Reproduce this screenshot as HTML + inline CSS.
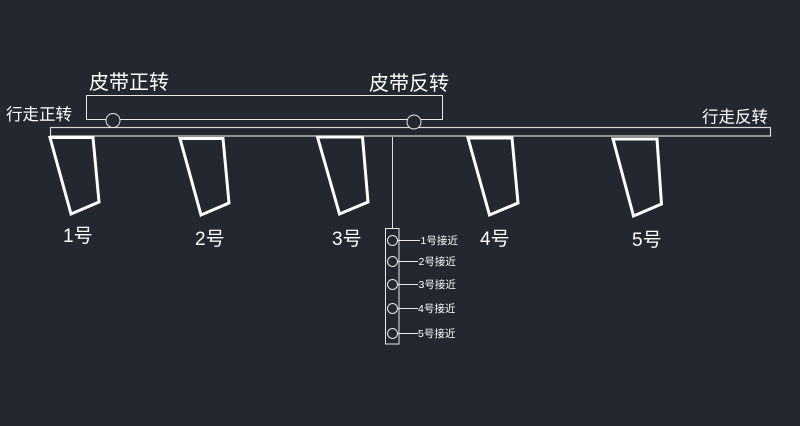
<!DOCTYPE html>
<html><head><meta charset="utf-8"><style>
html,body{margin:0;padding:0;background:#222730;}
svg{display:block;}
text{font-family:"Liberation Sans","Noto Sans CJK SC",sans-serif;fill:#ffffff;}
</style></head><body>
<svg width="800" height="426" viewBox="0 0 800 426" xmlns="http://www.w3.org/2000/svg">
<rect width="800" height="426" fill="#222730"/>
<!-- belt rect -->
<rect x="86.5" y="95.5" width="356" height="24" fill="none" stroke="#e8e8e8" stroke-width="1"/>
<!-- rail -->
<rect x="50.5" y="127.5" width="720" height="8.5" fill="none" stroke="#d8d8d8" stroke-width="1.2"/>
<!-- circles on belt -->
<circle cx="113" cy="120.5" r="7" fill="#222730" stroke="#e8e8e8" stroke-width="1"/>
<circle cx="414" cy="122" r="7" fill="#222730" stroke="#e8e8e8" stroke-width="1"/>
<!-- trapezoids -->
<g fill="none" stroke="#ffffff" stroke-width="3" stroke-linejoin="miter">
<polygon points="50,137.5 93,137.5 99,202 71,214"/>
<polygon points="180,138.5 223,138.5 229,203 201,215"/>
<polygon points="317.5,137 362.5,137 368,202 339.5,214"/>
<polygon points="468,138 512,138 518,203 489.5,215"/>
<polygon points="613,139 657,139 661.5,204 633.5,216"/>
</g>
<!-- labels -->
<text x="89" y="89" font-size="20">皮带正转</text>
<text x="369" y="90" font-size="20">皮带反转</text>
<text x="6" y="120" font-size="16.5">行走正转</text>
<text x="702" y="122.5" font-size="16.5">行走反转</text>
<text x="63" y="242" font-size="19">1号</text>
<text x="195" y="245" font-size="19">2号</text>
<text x="332" y="245" font-size="19">3号</text>
<text x="480" y="245" font-size="19">4号</text>
<text x="632" y="246" font-size="19">5号</text>
<!-- proximity -->
<line x1="392.5" y1="137" x2="392.5" y2="228.5" stroke="#e0e0e0" stroke-width="1"/>
<rect x="385.5" y="228.5" width="13.5" height="115.5" fill="none" stroke="#e8e8e8" stroke-width="1"/>
<g fill="none" stroke="#e8e8e8" stroke-width="1">
<circle cx="392.5" cy="240.5" r="5"/>
<circle cx="392.5" cy="261.5" r="5"/>
<circle cx="392.5" cy="284.5" r="5"/>
<circle cx="392.5" cy="308.5" r="5"/>
<circle cx="392.5" cy="333.5" r="5"/>
<line x1="397.5" y1="240.5" x2="420" y2="240.5"/>
<line x1="397.5" y1="261.5" x2="418" y2="261.5"/>
<line x1="397.5" y1="284.5" x2="418" y2="284.5"/>
<line x1="397.5" y1="308.5" x2="418" y2="308.5"/>
<line x1="397.5" y1="333.5" x2="418" y2="333.5"/>
</g>
<g font-size="10.5">
<text x="420.5" y="244.2">1号接近</text>
<text x="418.5" y="265.2">2号接近</text>
<text x="418.5" y="288.2">3号接近</text>
<text x="418" y="312.2">4号接近</text>
<text x="418" y="337.2">5号接近</text>
</g>
</svg>
</body></html>
